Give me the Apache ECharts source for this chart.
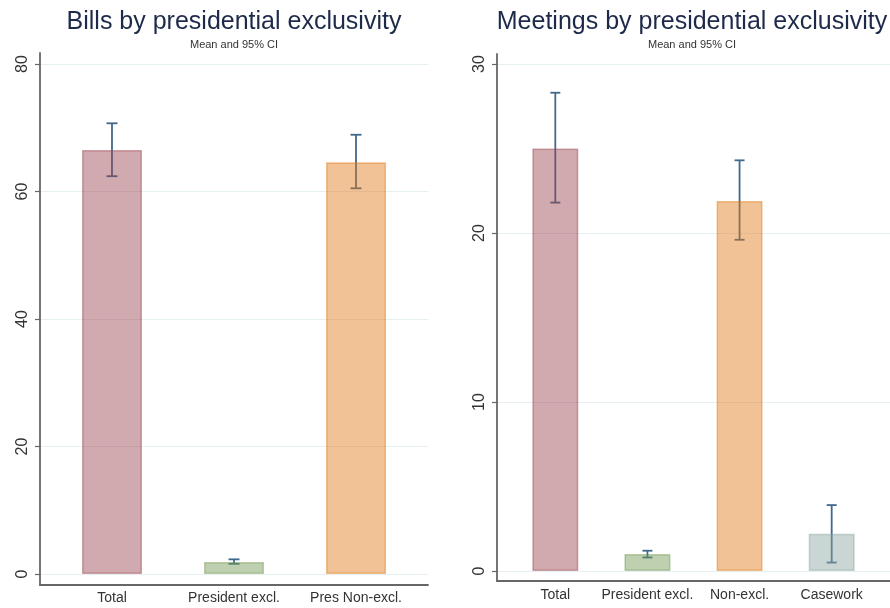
<!DOCTYPE html>
<html>
<head>
<meta charset="utf-8">
<script src="https://cdn.jsdelivr.net/npm/echarts@6/dist/echarts.min.js"></script>
<style>
  html, body { margin: 0; padding: 0; background: #fff; }
  #chart { width: 890px; height: 608px; }
</style>
</head>
<body>
<div id="chart"></div>
<script>
// Bills panel: mean and 95% CI by category
const billCats = ['Total', 'President excl.', 'Pres Non-excl.'];
const billMean = [66.5, 1.9, 64.6];
const billLo = [62.4, 1.6, 60.5];
const billHi = [70.7, 2.3, 68.9];
const billTicks = [0, 20, 40, 60, 80];

// Meetings panel: mean and 95% CI by category
const meetCats = ['Total', 'President excl.', 'Non-excl.', 'Casework'];
const meetMean = [25.0, 1.0, 21.9, 2.2];
const meetLo = [21.8, 0.8, 19.6, 0.5];
const meetHi = [28.3, 1.2, 24.3, 3.9];
const meetTicks = [0, 10, 20, 30];

// Fill colours for the bars, in category order
const barColors = [
  'rgba(153,66,77,0.45)',
  'rgba(110,150,80,0.45)',
  'rgba(225,120,20,0.45)',
  'rgba(135,165,160,0.45)'
];
const ciColor = '#41698c';
const axisColor = '#666';
const gridColor = '#e6eff1';

const chart = echarts.init(document.getElementById('chart'));

function barData(means) {
  return means.map((v, i) => ({
    value: [i + 1, v],
    itemStyle: { color: barColors[i], borderColor: barColors[i], borderWidth: 1.5 }
  }));
}

function ciData(lo, hi) {
  return lo.map((l, i) => [i + 1, l, hi[i]]);
}

function ciRender(capHalf) {
  return function (params, api) {
    const x = api.value(0);
    const lo = api.coord([x, api.value(1)]);
    const hi = api.coord([x, api.value(2)]);
    const style = { stroke: ciColor, lineWidth: 1.8 };
    return {
      type: 'group',
      children: [
        { type: 'line', shape: { x1: lo[0], y1: lo[1], x2: hi[0], y2: hi[1] }, style },
        { type: 'line', shape: { x1: hi[0] - capHalf, y1: hi[1], x2: hi[0] + capHalf, y2: hi[1] }, style },
        { type: 'line', shape: { x1: lo[0] - capHalf, y1: lo[1], x2: lo[0] + capHalf, y2: lo[1] }, style }
      ]
    };
  };
}

function catAxis(gridIndex, cats, min, max) {
  return {
    type: 'value', gridIndex, min, max,
    axisLine: { show: false }, axisTick: { show: false }, splitLine: { show: false },
    axisLabel: {
      customValues: cats.map((c, i) => i + 1),
      formatter: v => cats[Math.round(v) - 1] || '',
      color: '#333', fontSize: 14, margin: 17,
      fontFamily: 'Liberation Sans, Arial, sans-serif'
    }
  };
}

function valAxis(gridIndex, max, interval) {
  return {
    type: 'value', gridIndex, min: 0, max, interval,
    axisLine: { show: false },
    axisTick: { show: true, length: 5, lineStyle: { color: axisColor, width: 1.2 } },
    splitLine: { show: true, lineStyle: { color: gridColor, width: 1.2 } },
    axisLabel: {
      rotate: 90, color: '#333', fontSize: 16, margin: 9,
      fontFamily: 'Liberation Sans, Arial, sans-serif'
    }
  };
}

function frameAxis(gridIndex) {
  return {
    type: 'value', gridIndex, min: 0, max: 1,
    axisLine: { show: true, lineStyle: { color: axisColor, width: 1.8 } },
    axisTick: { show: false }, axisLabel: { show: false }, splitLine: { show: false }
  };
}

const titleFont = 'Liberation Sans, Arial, sans-serif';

function heading(text, centerX, top, size, color) {
  return {
    text, left: centerX, top, textAlign: 'center', padding: 0,
    textStyle: { fontSize: size, fontWeight: 'normal', color, fontFamily: titleFont }
  };
}

chart.setOption({
  animation: false,
  title: [
    heading('Bills by presidential exclusivity', 234, 10, 25, '#1e2a4a'),
    heading('Mean and 95% CI', 234, 39, 11, '#333'),
    heading('Meetings by presidential exclusivity', 692, 10, 25, '#1e2a4a'),
    heading('Mean and 95% CI', 692, 39, 11, '#333')
  ],
  grid: [
    { left: 40, right: 462, top: 64, bottom: 34 },   // bills data area
    { left: 40, right: 462, top: 53, bottom: 23 },   // bills axis frame
    { left: 497, right: 0, top: 64, bottom: 37 },    // meetings data area
    { left: 497, right: 0, top: 54, bottom: 27 }     // meetings axis frame
  ],
  xAxis: [
    catAxis(0, billCats, 0.41, 3.59),
    frameAxis(1),
    catAxis(2, meetCats, 0.367, 4.633),
    frameAxis(3)
  ],
  yAxis: [
    valAxis(0, billTicks[billTicks.length - 1], 20),
    frameAxis(1),
    valAxis(2, meetTicks[meetTicks.length - 1], 10),
    frameAxis(3)
  ],
  series: [
    { type: 'custom', xAxisIndex: 0, yAxisIndex: 0, z: 2,
      renderItem: ciRender(5.5), data: ciData(billLo, billHi) },
    { type: 'bar', xAxisIndex: 0, yAxisIndex: 0, z: 3, barWidth: 60,
      data: barData(billMean) },
    { type: 'custom', xAxisIndex: 2, yAxisIndex: 2, z: 2,
      renderItem: ciRender(5), data: ciData(meetLo, meetHi) },
    { type: 'bar', xAxisIndex: 2, yAxisIndex: 2, z: 3, barWidth: 46,
      data: barData(meetMean) }
  ]
});
</script>
</body>
</html>
